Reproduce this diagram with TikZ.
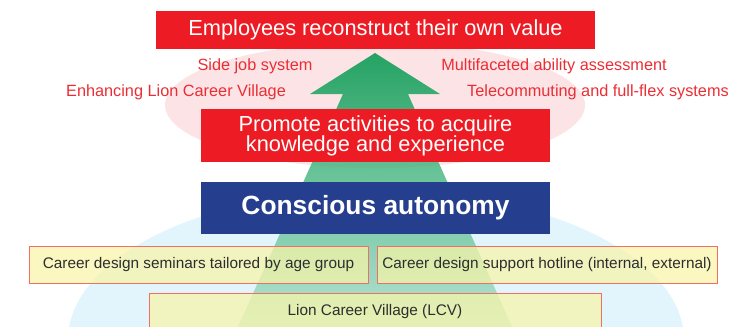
\documentclass[tikz,border=0pt]{standalone}
\usepackage{fontspec}
\setmainfont{Liberation Sans}
\usetikzlibrary{positioning}
\definecolor{lionred}{RGB}{237,28,36}
\definecolor{labelred}{RGB}{235,45,52}
\definecolor{lionblue}{RGB}{37,63,142}
\definecolor{liongreen}{RGB}{0,152,78}
\definecolor{midgreen}{RGB}{110,198,150}
\definecolor{mintgreen}{RGB}{185,228,212}
\definecolor{pinkhalo}{RGB}{252,228,230}
\definecolor{bluehalo}{RGB}{226,244,252}
\definecolor{paleyellow}{RGB}{248,245,168}
\definecolor{boxedge}{RGB}{240,110,100}
\definecolor{textgray}{RGB}{45,45,45}

\begin{document}
\begin{tikzpicture}[
            x=0.03cm, y=-0.03cm, % one unit is one pixel of the reference
            redbox/.style={fill=lionred, text=white, inner sep=0pt, align=center, font=\fontsize{18.6}{17.5}\selectfont},
            bluebox/.style={fill=lionblue, text=white, inner sep=0pt, font=\fontsize{22.5}{24}\bfseries\selectfont},
            yellowbox/.style={draw=boxedge, line width=0.8pt, fill=paleyellow, fill opacity=0.72, text opacity=1, text=textgray, inner sep=0pt, minimum height=1.11cm, font=\fontsize{13.1}{15}\selectfont},
            halolabel/.style={text=labelred, inner sep=0pt, font=\fontsize{13.9}{16}\selectfont}
        ]
            \useasboundingbox (0,0) rectangle (731,326);
            \clip (0,0) rectangle (731,326);

            % halos behind everything
            \fill [pinkhalo] (375,105) ellipse [x radius=210, y radius=63];
            \fill [bluehalo] (376,340) ellipse [x radius=308, y radius=150];

            % the green arrow
            \shade [top color=liongreen, middle color=midgreen, bottom color=mintgreen, opacity=0.85]
                (375,53) -- (440,94) -- (408,94) -- (518,340) -- (232,340) -- (343,94) -- (310,94) -- cycle;

            % stacked boxes
            \node [redbox, minimum width=13.17cm, minimum height=1.14cm] (value) at (375.5,30) {Employees reconstruct their own value};
            \node [redbox, minimum width=10.44cm, minimum height=1.59cm, below=1.8cm of value] (activities) {Promote activities to acquire\\knowledge and experience};
            \node [bluebox, minimum width=10.44cm, minimum height=1.56cm, below=0.57cm of activities] (autonomy) {Conscious autonomy};

            % measures round the arrow
            \node [halolabel] (sidejob) at (255,66) {Side job system};
            \node [halolabel] (ability) at (554,66) {Multifaceted ability assessment};
            \node [halolabel] (village) at (176,92) {Enhancing Lion Career Village};
            \node [halolabel, anchor=east] (telework) at (729,92) {Telecommuting and full-flex systems};

            % support at the base
            \node [yellowbox, minimum width=10.17cm] (seminars) at (198.5,264.5) {Career design seminars tailored by age group};
            \node [yellowbox, minimum width=10.2cm] (hotline) at (547,264.5) {Career design support hotline (internal, external)};
            \node [yellowbox, minimum width=13.56cm, minimum height=1.5cm, anchor=north] (lcv) at (375,293) {};
            \node [text=textgray, inner sep=0pt, font=\fontsize{13.1}{15}\selectfont] (lcvtext) at (375,312) {Lion Career Village (LCV)};
        \end{tikzpicture}
\end{document}
